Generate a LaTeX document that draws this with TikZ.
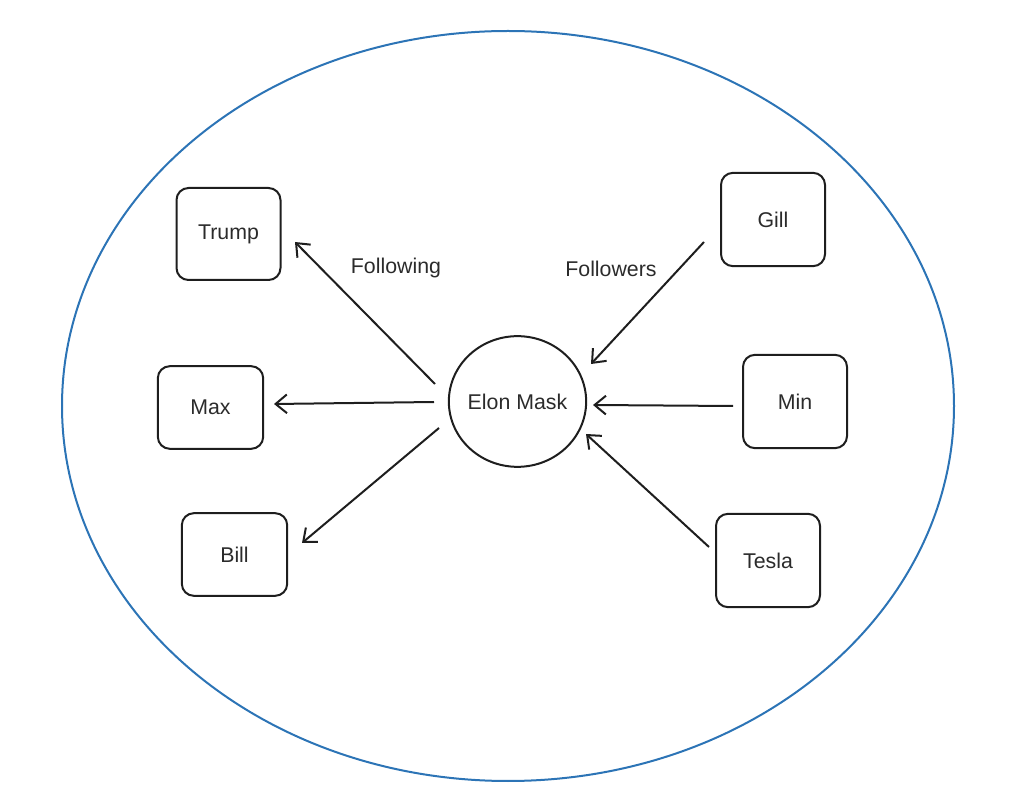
\documentclass[tikz,border=0pt]{standalone}
\usepackage{fontspec}
\setmainfont{Liberation Sans}
\usetikzlibrary{arrows.meta,shapes.geometric}
\definecolor{ink}{HTML}{1E1E1E}
\definecolor{txt}{HTML}{2B2B2B}
\definecolor{ringblue}{HTML}{2C74B6}
\tikzset{
  person/.style={draw=ink, line width=1.5pt, rounded corners=9pt, minimum width=78pt, minimum height=69pt, inner sep=0pt, text=txt, font=\fontsize{16}{18}\selectfont},
  hub/.style={draw=ink, line width=1.5pt, ellipse, minimum width=103pt, minimum height=98pt, inner sep=0pt, text=txt, font=\fontsize{16}{18}\selectfont},
  lbl/.style={text=txt, font=\fontsize{16}{18}\selectfont, inner sep=0pt},
  arr/.style={draw=ink, line width=1.5pt, -{Straight Barb[length=8.5pt,width=14pt,line width=1.5pt]}}
}
\begin{document}
\begin{tikzpicture}[x=0.75pt,y=-0.75pt]
\useasboundingbox (0,0) rectangle (1018,787);
\node[draw=ringblue, line width=1.5pt, ellipse, minimum width=669pt, minimum height=562.5pt, inner sep=0pt] (ring) at (508,406) {};
\node[hub] (elon) at (517.5,401.5) {\raisebox{-1.5pt}{\makebox[40pt][c]{Elon Mask}}};
\node[person, minimum height=69pt] (trump) at (228.5,234) {\raisebox{-1.5pt}{Trump}};
\node[person, minimum width=79pt, minimum height=62pt] (max) at (210.5,407.5) {\raisebox{-1.5pt}{Max}};
\node[person, minimum width=79pt, minimum height=62pt] (bill) at (234.5,554.5) {\raisebox{-1.5pt}{Bill}};
\node[person, minimum height=70pt] (gill) at (773,219.5) {\raisebox{-1.5pt}{Gill}};
\node[person, minimum height=70pt] (min) at (795,401.5) {\raisebox{-1.5pt}{Min}};
\node[person, minimum height=70pt] (tesla) at (768,560.5) {\raisebox{-1.5pt}{Tesla}};
\node[lbl] (following) at (396,267.5) {Following};
\node[lbl] (followers) at (611,269) {Followers};
\draw[arr] ([shift={(-82.5,-17.5)}]elon.center) -- ([shift={(66.5,8)}]trump.center);
\draw[arr] ([shift={(-83.5,0.5)}]elon.center) -- ([shift={(63.5,-3.5)}]max.center);
\draw[arr] ([shift={(-78.5,26.5)}]elon.center) -- ([shift={(67.5,-11.5)}]bill.center);
\draw[arr] ([shift={(-69,22.5)}]gill.center) -- ([shift={(73.5,-37.5)}]elon.center);
\draw[arr] ([shift={(-62,4.5)}]min.center) -- ([shift={(75.5,3.5)}]elon.center);
\draw[arr] ([shift={(-59,-13.5)}]tesla.center) -- ([shift={(68.5,32.5)}]elon.center);
\end{tikzpicture}
\end{document}
